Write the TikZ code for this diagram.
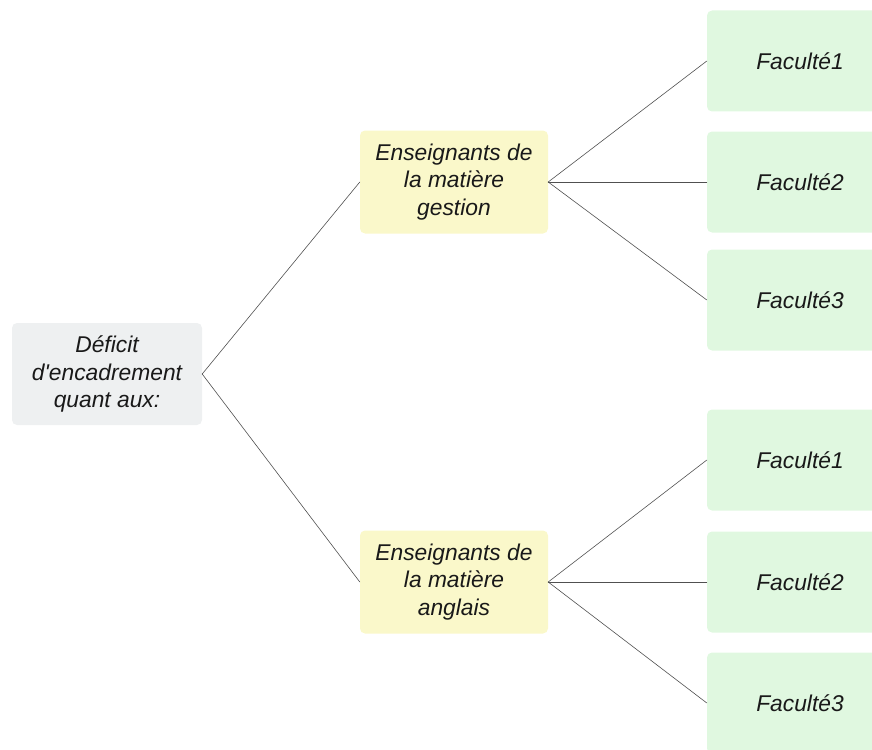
\documentclass[tikz,border=0pt]{standalone}
\usepackage{fontspec}
\setmainfont{Liberation Sans}
\definecolor{rootgray}{RGB}{238,240,241}
\definecolor{topicyellow}{RGB}{250,248,202}
\definecolor{leafgreen}{RGB}{224,248,224}
\definecolor{linkgray}{RGB}{80,80,80}
\definecolor{textdark}{RGB}{25,25,25}
\begin{document}
\begin{tikzpicture}[x = 1pt, y = -1pt, line cap = round, line join = round,
        box/.style={rounded corners = 5pt, align = center, inner sep = 0pt, text = textdark, font = \fontsize{22.8}{27.5}\selectfont\itshape},
        rootbox/.style={box, fill = rootgray, minimum width = 190pt, minimum height = 102pt},
        topicbox/.style={box, fill = topicyellow, minimum width = 188pt, minimum height = 103pt},
        leafbox/.style={box, fill = leafgreen, minimum width = 186pt, minimum height = 101pt},
        link/.style={linkgray, line width = 0.6pt}]
        %
        \useasboundingbox (0, 0) rectangle (872, 749);
        %
        % root
        \node [rootbox] (root) at (107, 374) {Déficit\\d\textquotesingle encadrement\\quant aux:};

        % topics
        \foreach \name/\yc in {gestion/182, anglais/582}
        {
            \node [topicbox] (\name) at (454, \yc) {Enseignants de\\la matière\\\name};
            \draw [link] (root.east) -- (\name.west);
        }

        % faculties
        \foreach \topic/\i/\yc in {gestion/1/61, gestion/2/182, gestion/3/300, anglais/1/460, anglais/2/582, anglais/3/703}
        {
            \node [leafbox] (\topic-\i) at (800, \yc) {Faculté\i};
            \draw [link] (\topic.east) -- (\topic-\i.west);
        }
    \end{tikzpicture}
\end{document}
